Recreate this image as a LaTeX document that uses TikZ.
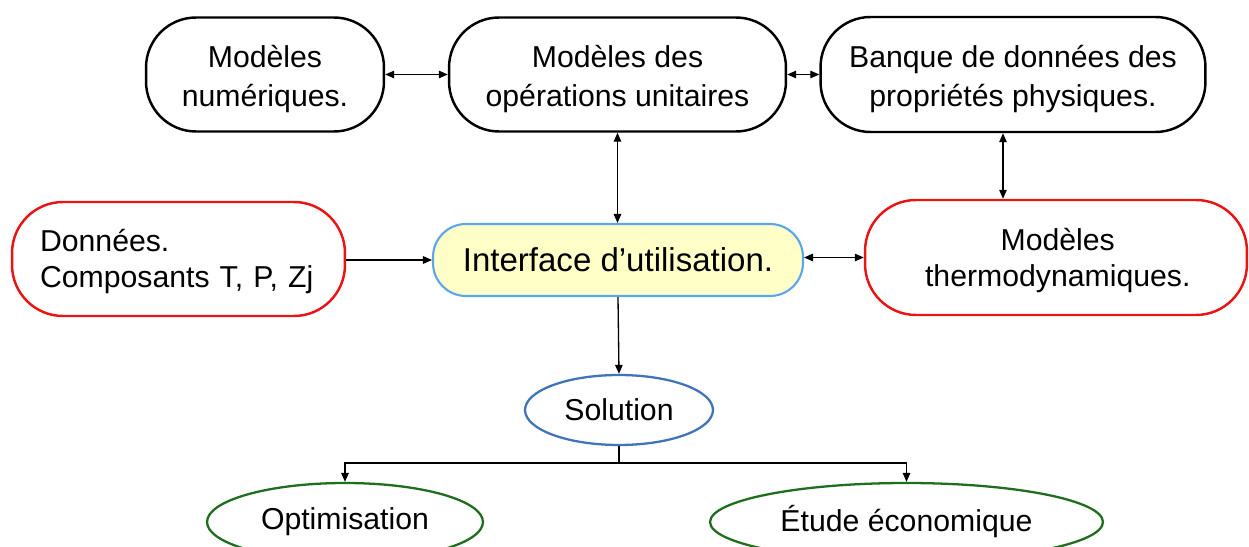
\documentclass[tikz,border=0pt]{standalone}
\usepackage{fontspec}
\setmainfont{Liberation Sans}
\usetikzlibrary{shapes.geometric,arrows.meta}
\definecolor{redb}{RGB}{235,20,20}
\definecolor{blueb}{RGB}{90,165,235}
\definecolor{yell}{RGB}{255,255,200}
\definecolor{solb}{RGB}{65,115,185}
\definecolor{greenb}{RGB}{30,110,30}
\tikzset{
  txt/.style={font=\fontsize{17.2}{21.8}\selectfont, align=center, inner sep=0pt},
  rtxt/.style={font=\fontsize{17.2}{20.6}\selectfont, align=center, inner sep=0pt},
  blackbox/.style={inner sep=0pt, draw=black, line width=1.4pt, rounded corners=1.0cm, fill=white},
  redbox/.style={inner sep=0pt, draw=redb, line width=1.4pt, rounded corners=1.02cm, fill=white},
  ifbox/.style={draw=blueb, line width=1.2pt, rounded corners=0.66cm, fill=yell, inner sep=0pt, font=\fontsize{18.8}{22}\selectfont},
  ell/.style={txt, ellipse, line width=1.3pt},
  conn/.style={line width=0.75pt, -{Triangle[length=1.8mm,width=1.5mm]}},
  dconn/.style={line width=0.75pt, {Triangle[length=1.8mm,width=1.5mm]}-{Triangle[length=1.8mm,width=1.5mm]}},
  plain/.style={line width=0.75pt}
}
\begin{document}
\begin{tikzpicture}[x=0.02cm,y=-0.02cm]
\useasboundingbox (0,0) rectangle (1249,547);
% top row
\node[blackbox, minimum width=4.76cm, minimum height=2.28cm,
  label={[txt,yshift=-2.6pt]center:{Modèles\\numériques.}}] (A) at (265,74.5) {};
\node[blackbox, minimum width=6.74cm, minimum height=2.28cm,
  label={[txt,yshift=-2.6pt]center:{Modèles des\\opérations unitaires}}] (B) at (617.5,74.5) {};
\node[blackbox, minimum width=7.7cm, minimum height=2.3cm,
  label={[txt,yshift=-2.6pt]center:{Banque de données des\\propriétés physiques.}}] (C) at (1013,74.5) {};
% middle row
\node[redbox, minimum width=6.66cm, minimum height=2.28cm,
  label={[rtxt, align=left, text width=5.54cm, yshift=-1.5pt]center:{Données.\\Composants T, P, Zj}}] (D) at (178.5,259) {};
\node[ifbox, minimum width=7.4cm, minimum height=1.44cm] (I) at (618,260) {Interface d’utilisation.};
\node[redbox, minimum width=7.64cm, minimum height=2.3cm,
  label={[rtxt,xshift=1pt,yshift=-1.5pt]center:{Modèles\\thermodynamiques.}}] (T) at (1056,257.5) {};
% solution
\node[ell, draw=solb, minimum width=3.76cm, minimum height=1.4cm] (S) at (619,410) {Solution};
\node[ell, draw=greenb, minimum width=5.52cm, minimum height=1.56cm] (O) at (345,522) {Optimisation};
\node[ell, draw=greenb, minimum width=7.86cm, minimum height=1.56cm] (E) at (906.5,522) {Étude économique};
% connectors
\draw[dconn] (A.east) -- (B.west);
\draw[dconn] (B.east) -- (C.west);
\coordinate (ct) at (1003,0);
\draw[dconn] (C.south -| ct) -- (T.north -| ct);
\draw[dconn] (B.south) -- (I.north -| B.south);
\draw[conn] (D.east |- I.west) -- (I.west);
\draw[dconn] (I.east |- T.west) -- (T.west);
\draw[conn] (I.south) -- (S.north);
\coordinate (split) at (619,463);
\draw[plain] (S.south) -- (split);
\draw[conn] (split) -| (O.north);
\draw[conn] (split) -| (E.north);
\end{tikzpicture}
\end{document}
